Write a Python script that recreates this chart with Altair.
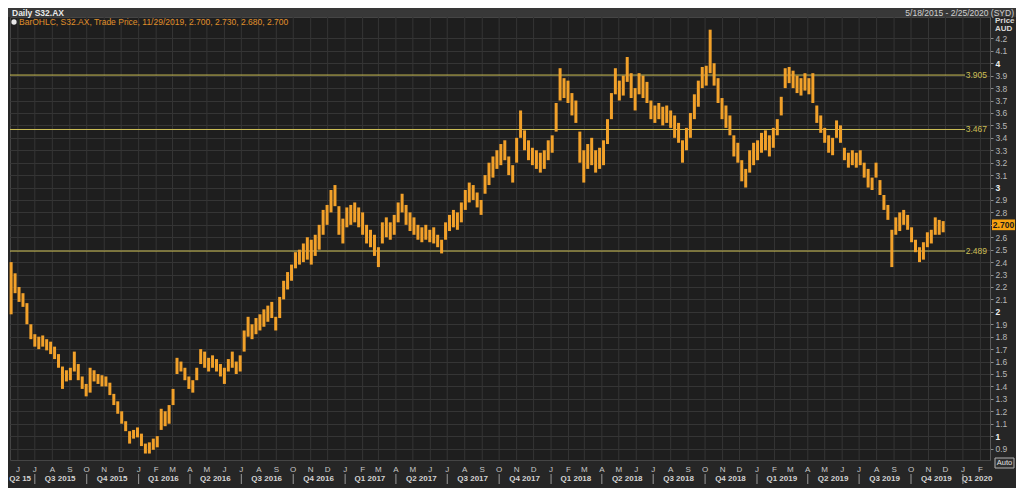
import altair as alt
import pandas as pd

# ---------------- data ----------------
TICKER = "S32.AX"
RANGE_TEXT = "5/18/2015 - 2/25/2020 (SYD)"
LAST_DATE = "11/29/2019"
LAST_OHLC = ["2.700", "2.730", "2.680", "2.700"]
LAST_PRICE = 2.700
LEVELS = [3.905, 3.467, 2.489]
LEVEL_LABELS = ["3.905", "3.467", "2.489"]
PRICE_TICKS = [0.9, 1.0, 1.1, 1.2, 1.3, 1.4, 1.5, 1.6, 1.7, 1.8, 1.9, 2.0, 2.1, 2.2,
               2.3, 2.4, 2.5, 2.6, 2.7, 2.8, 2.9, 3.0, 3.1, 3.2, 3.3, 3.4, 3.5, 3.6,
               3.7, 3.8, 3.9, 4.0, 4.1, 4.2]

FIRST_WEEK = "2015-05-20"   # weekly bars (mid-week), low / high in AUD
LOWS = [
    1.98, 2.15, 2.08, 2.04, 1.90, 1.78, 1.72, 1.70, 1.72, 1.69,
    1.66, 1.62, 1.55, 1.38, 1.44, 1.45, 1.52, 1.45, 1.38, 1.32,
    1.35, 1.44, 1.42, 1.40, 1.40, 1.33, 1.25, 1.18, 1.10, 1.04,
    0.94, 0.98, 0.99, 0.92, 0.86, 0.86, 0.89, 0.91, 1.05, 1.08,
    1.10, 1.25, 1.50, 1.52, 1.45, 1.38, 1.35, 1.45, 1.58, 1.55,
    1.52, 1.55, 1.52, 1.48, 1.42, 1.52, 1.55, 1.50, 1.52, 1.68,
    1.80, 1.78, 1.82, 1.85, 1.88, 1.92, 1.95, 1.85, 1.95, 2.10,
    2.18, 2.25, 2.35, 2.38, 2.40, 2.42, 2.38, 2.45, 2.50, 2.62,
    2.70, 2.80, 2.85, 2.62, 2.55, 2.68, 2.70, 2.72, 2.68, 2.62,
    2.55, 2.52, 2.45, 2.36, 2.55, 2.60, 2.58, 2.62, 2.72, 2.80,
    2.70, 2.65, 2.62, 2.58, 2.56, 2.58, 2.56, 2.55, 2.52, 2.47,
    2.58, 2.65, 2.68, 2.66, 2.72, 2.82, 2.88, 2.90, 2.84, 2.78,
    2.95, 3.02, 3.08, 3.15, 3.18, 3.22, 3.10, 3.04, 3.20, 3.40,
    3.30, 3.22, 3.18, 3.15, 3.12, 3.15, 3.22, 3.28, 3.45, 3.70,
    3.72, 3.68, 3.58, 3.52, 3.20, 3.04, 3.15, 3.18, 3.12, 3.15,
    3.18, 3.35, 3.55, 3.75, 3.70, 3.74, 3.85, 3.72, 3.62, 3.75,
    3.72, 3.68, 3.55, 3.52, 3.55, 3.50, 3.52, 3.48, 3.40, 3.36,
    3.20, 3.30, 3.40, 3.55, 3.65, 3.80, 3.82, 3.92, 3.82, 3.68,
    3.55, 3.48, 3.42, 3.25, 3.20, 3.05, 3.00, 3.12, 3.18, 3.22,
    3.28, 3.30, 3.25, 3.32, 3.42, 3.58, 3.80, 3.84, 3.80, 3.76,
    3.74, 3.78, 3.75, 3.68, 3.52, 3.44, 3.36, 3.28, 3.26, 3.40,
    3.36, 3.22, 3.16, 3.18, 3.16, 3.18, 3.08, 3.00, 2.98, 3.08,
    2.94, 2.82, 2.74, 2.36, 2.62, 2.65, 2.70, 2.66, 2.56, 2.48,
    2.40, 2.42, 2.52, 2.55, 2.62, 2.62, 2.64,
]
HIGHS = [
    2.40, 2.31, 2.20, 2.15, 2.07, 1.90, 1.82, 1.80, 1.81, 1.78,
    1.76, 1.72, 1.66, 1.56, 1.53, 1.55, 1.68, 1.58, 1.48, 1.42,
    1.55, 1.53, 1.50, 1.49, 1.48, 1.43, 1.34, 1.28, 1.20, 1.12,
    1.04, 1.05, 1.07, 1.02, 0.94, 0.95, 0.98, 1.00, 1.22, 1.20,
    1.25, 1.38, 1.63, 1.60, 1.55, 1.48, 1.45, 1.55, 1.70, 1.68,
    1.63, 1.65, 1.62, 1.58, 1.55, 1.62, 1.68, 1.60, 1.65, 1.85,
    1.96, 1.90, 1.95, 1.98, 2.02, 2.05, 2.08, 1.96, 2.12, 2.25,
    2.32, 2.38, 2.48, 2.50, 2.55, 2.60, 2.58, 2.62, 2.70, 2.82,
    2.86, 2.98, 3.02, 2.85, 2.75, 2.84, 2.86, 2.88, 2.84, 2.80,
    2.70, 2.66, 2.62, 2.52, 2.72, 2.76, 2.72, 2.78, 2.88, 2.95,
    2.86, 2.80, 2.76, 2.70, 2.68, 2.70, 2.66, 2.68, 2.62, 2.58,
    2.72, 2.78, 2.82, 2.80, 2.88, 2.98, 3.04, 3.02, 2.96, 2.90,
    3.10, 3.20, 3.25, 3.30, 3.35, 3.38, 3.25, 3.18, 3.40, 3.62,
    3.46, 3.38, 3.32, 3.30, 3.28, 3.30, 3.38, 3.42, 3.68, 3.96,
    3.88, 3.86, 3.76, 3.70, 3.45, 3.30, 3.35, 3.40, 3.30, 3.32,
    3.38, 3.55, 3.76, 3.96, 3.86, 3.90, 4.05, 3.92, 3.80, 3.92,
    3.90, 3.85, 3.70, 3.66, 3.68, 3.65, 3.66, 3.62, 3.58, 3.52,
    3.38, 3.48, 3.60, 3.75, 3.86, 3.97, 3.98, 4.27, 4.00, 3.88,
    3.72, 3.66, 3.58, 3.42, 3.36, 3.22, 3.15, 3.30, 3.36, 3.38,
    3.44, 3.46, 3.42, 3.48, 3.55, 3.73, 3.96, 3.97, 3.94, 3.90,
    3.88, 3.92, 3.88, 3.92, 3.66, 3.58, 3.48, 3.42, 3.40, 3.54,
    3.50, 3.32, 3.28, 3.30, 3.28, 3.30, 3.20, 3.15, 3.08, 3.20,
    3.06, 2.94, 2.86, 2.66, 2.76, 2.80, 2.82, 2.78, 2.68, 2.58,
    2.52, 2.56, 2.64, 2.66, 2.76, 2.74, 2.73,
]

MONTH_LETTERS = ["J", "F", "M", "A", "M", "J", "J", "A", "S", "O", "N", "D"]
QUARTER_LABELS = ["Q2 15", "Q3 2015", "Q4 2015", "Q1 2016", "Q2 2016", "Q3 2016",
                  "Q4 2016", "Q1 2017", "Q2 2017", "Q3 2017", "Q4 2017", "Q1 2018",
                  "Q2 2018", "Q3 2018", "Q4 2018", "Q1 2019", "Q2 2019", "Q3 2019",
                  "Q4 2019", "Q1 2020"]
QUARTER_MIDS = ["2015-06-05", "2015-08-15", "2015-11-15", "2016-02-14", "2016-05-16",
                "2016-08-15", "2016-11-15", "2017-02-14", "2017-05-16", "2017-08-15",
                "2017-11-15", "2018-02-14", "2018-05-16", "2018-08-15", "2018-11-15",
                "2019-02-14", "2019-05-16", "2019-08-15", "2019-11-15", "2020-01-26"]
QUARTER_STARTS = ["2015-07-01", "2015-10-01", "2016-01-01", "2016-04-01", "2016-07-01",
                  "2016-10-01", "2017-01-01", "2017-04-01", "2017-07-01", "2017-10-01",
                  "2018-01-01", "2018-04-01", "2018-07-01", "2018-10-01", "2019-01-01",
                  "2019-04-01", "2019-07-01", "2019-10-01", "2020-01-01"]

# ---------------- tables ----------------
bars = pd.DataFrame({
    "date": pd.date_range(FIRST_WEEK, periods=len(LOWS), freq="7D"),
    "low": LOWS,
    "high": HIGHS,
})
month_starts = pd.date_range("2015-06-01", "2020-02-01", freq="MS")
months = pd.DataFrame({"date": month_starts,
                       "letter": [MONTH_LETTERS[d.month - 1] for d in month_starts]})
qlabels = pd.DataFrame({"date": pd.to_datetime(QUARTER_MIDS), "label": QUARTER_LABELS})
qseps = pd.DataFrame({"date": pd.to_datetime(QUARTER_STARTS)})
levels = pd.DataFrame({"price": LEVELS, "label": LEVEL_LABELS})
last = pd.DataFrame({"price": [LAST_PRICE], "label": [LAST_OHLC[-1]]})
one = pd.DataFrame({"k": [0]})

# ---------------- layout / style ----------------
W, H = 980, 443
BG = "#262626"
PLOT_BG = "#1e1e1e"
GRID = "#353535"
ORANGE = "#f2a12a"
LEVEL_C = "#cdbf55"
TXT = "#c8c8c8"
FONT = "Liberation Sans"

x_scale = alt.Scale(domain=[alt.DateTime(year=2015, month=5, date=18),
                            alt.DateTime(year=2020, month=2, date=18)])
y_scale = alt.Scale(domain=[0.808, 4.372], nice=False, zero=False)

price_axis = alt.Axis(
    orient="right", values=PRICE_TICKS, title="",
    labelExpr=f"abs(datum.value - {LAST_PRICE}) < 0.01 ? '' : format(datum.value, '.1~f')",
    grid=True, gridColor=GRID, gridWidth=1,
    domainColor="#5a5a5a", tickColor="#8a8a8a", tickSize=3,
    labelPadding=2, labelFont=FONT, labelFontSize=8.5,
    labelColor={"condition": {"test": "datum.value % 1 === 0", "value": "#f0f0f0"},
                "value": "#b8b8b8"},
    labelFontWeight={"condition": {"test": "datum.value % 1 === 0", "value": "bold"},
                     "value": "normal"},
)


def X(field="date"):
    return alt.X(f"{field}:T", scale=x_scale, axis=None)


def Y(field):
    return alt.Y(f"{field}:Q", scale=y_scale, axis=price_axis)


grid_v = alt.Chart(months).mark_rule(color=GRID, strokeWidth=1).encode(
    x=X(), y=alt.value(0), y2=alt.value(H))

level_lines = alt.Chart(levels).mark_rule(color=LEVEL_C, strokeWidth=1).encode(
    y=Y("price"), x=alt.value(0), x2=alt.value(W - 25))
level_text = alt.Chart(levels).mark_text(
    align="right", baseline="middle", font=FONT, fontSize=8.5, color=LEVEL_C).encode(
    y=Y("price"), x=alt.value(W - 3), text="label:N")

ohlc = alt.Chart(bars).mark_rule(color=ORANGE, strokeWidth=3.0).encode(
    x=X(), y=Y("low"), y2="high:Q")

legend_icon = alt.Chart(one).mark_point(shape="circle", filled=True, color="#e8e8e8",
                                        size=28, opacity=1).encode(
    x=alt.value(4), y=alt.value(5))
legend_text = alt.Chart(one).mark_text(
    align="left", baseline="middle", font=FONT, fontSize=8.5, color="#e0902a").encode(
    x=alt.value(9), y=alt.value(5),
    text=alt.value(f"BarOHLC, {TICKER}, Trade Price, {LAST_DATE}, " + ", ".join(LAST_OHLC)))

header_band = alt.Chart(one).mark_rect(color="#383838").encode(
    x=alt.value(-2), x2=alt.value(W + 26), y=alt.value(-9), y2=alt.value(0))
header_title = alt.Chart(one).mark_text(
    align="left", baseline="middle", font=FONT, fontSize=8.5, fontWeight="bold",
    color="#e8e8e8").encode(x=alt.value(2), y=alt.value(-4.5),
                            text=alt.value(f"Daily {TICKER}"))
header_range = alt.Chart(one).mark_text(
    align="right", baseline="middle", font=FONT, fontSize=8.5, color="#d0d0d0").encode(
    x=alt.value(W + 24), y=alt.value(-4.5), text=alt.value(RANGE_TEXT))

unit_price = alt.Chart(one).mark_text(
    align="left", baseline="middle", font=FONT, fontSize=8, fontWeight="bold",
    color="#d8d8d8").encode(x=alt.value(W + 5), y=alt.value(4), text=alt.value("Price"))
unit_aud = alt.Chart(one).mark_text(
    align="left", baseline="middle", font=FONT, fontSize=8, fontWeight="bold",
    color="#d8d8d8").encode(x=alt.value(W + 5), y=alt.value(12), text=alt.value("AUD"))

last_box = alt.Chart(last).transform_calculate(
    top="datum.price + 0.043", bot="datum.price - 0.043").mark_rect(color="#f5a010").encode(
    x=alt.value(W + 2), x2=alt.value(W + 25), y=Y("top"), y2="bot:Q")
last_text = alt.Chart(last).mark_text(
    align="center", baseline="middle", font=FONT, fontSize=8.5, fontWeight="bold",
    color="#1a1a1a").encode(x=alt.value(W + 13.5), y=Y("price"), text="label:N")

auto_box = alt.Chart(one).mark_rect(fill="#2e2e2e", stroke="#b0b0b0", strokeWidth=1).encode(
    x=alt.value(W + 5), x2=alt.value(W + 24), y=alt.value(H - 2), y2=alt.value(H + 8))
auto_text = alt.Chart(one).mark_text(
    align="center", baseline="middle", font=FONT, fontSize=7.5, color="#e0e0e0").encode(
    x=alt.value(W + 14.5), y=alt.value(H + 3), text=alt.value("Auto"))

month_text = alt.Chart(months).mark_text(
    align="center", baseline="middle", font=FONT, fontSize=8, color=TXT).encode(
    x=X(), y=alt.value(H + 10), text="letter:N")
quarter_text = alt.Chart(qlabels).mark_text(
    align="center", baseline="middle", font=FONT, fontSize=8, fontWeight="bold",
    color="#d4d4d4").encode(x=X(), y=alt.value(H + 19), text="label:N")
quarter_sep = alt.Chart(qseps).mark_rule(color="#9a9a9a", strokeWidth=1).encode(
    x=X(), y=alt.value(H + 14), y2=alt.value(H + 24))

chart = alt.layer(
    grid_v, level_lines, ohlc, level_text, legend_icon, legend_text,
    header_band, header_title, header_range, unit_price, unit_aud,
    last_box, last_text, auto_box, auto_text, month_text, quarter_text, quarter_sep,
).properties(
    width=W, height=H,
    padding={"left": 2, "top": 9, "right": 26, "bottom": 28},
    autosize=alt.AutoSizeParams(type="none"),
).configure(background=BG).configure_view(fill=PLOT_BG, stroke="#454545")

chart.save("out.html", embed_options={"renderer": "svg", "actions": False})
